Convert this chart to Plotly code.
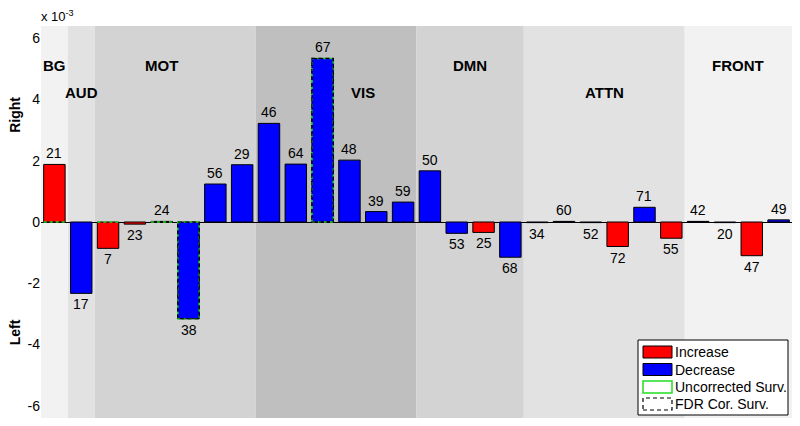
import plotly.graph_objects as go

# ---------------- data ----------------
bar_labels = [21, 17, 7, 23, 24, 38, 56, 29, 46, 64, 67, 48, 39, 59,
              50, 53, 25, 68, 34, 60, 52, 72, 71, 55, 42, 20, 47, 49]
values_e3 = [1.88, -2.33, -0.86, -0.07, 0.02, -3.16, 1.24, 1.87, 3.22, 1.89,
             5.34, 2.02, 0.34, 0.65, 1.67, -0.37, -0.34, -1.15, -0.02, 0.02,
             -0.02, -0.80, 0.48, -0.53, 0.02, -0.02, -1.10, 0.07]
direction = ["inc", "dec", "inc", "inc", "dec", "dec", "dec", "dec", "dec", "dec",
             "dec", "dec", "dec", "dec", "dec", "dec", "inc", "dec", "dec", "dec",
             "dec", "inc", "dec", "inc", "dec", "dec", "inc", "dec"]
uncorrected_surv = [1, 3, 5, 6, 11]   # 1-based bar numbers
fdr_surv = [6, 11]

region_names = ["BG", "AUD", "MOT", "VIS", "DMN", "ATTN", "FRONT"]
region_sizes = [1, 1, 6, 6, 4, 6, 4]
region_colors = ["#f2f2f2", "#e2e2e2", "#d3d3d3", "#bfbfbf", "#d3d3d3", "#e2e2e2", "#f2f2f2"]
region_label_x = [1, 2, 5, 12.5, 16.5, 21.5, 26.5]
region_label_y = [5.12, 4.24, 5.12, 4.24, 5.12, 4.24, 5.12]

y_ticks = [-6, -4, -2, 0, 2, 4, 6]
scale = 1e-3

legend_items = ["Increase", "Decrease", "Uncorrected Surv.", "FDR Cor. Surv."]

# ---------------- figure ----------------
# page has an 8px body margin: figure occupies window pixels 8..800 x 8..426
OFF = 8
W, H = 792, 418
ML, MR, MT, MB = 41 - OFF, 8, 26 - OFF, 8
PW, PH = W - ML - MR, H - MT - MB
FONT = "Liberation Sans, Arial"
DASH = "4px,3px"


def px(xw):   # window pixel -> paper x
    return (xw - OFF - ML) / PW


def py(yw):   # window pixel -> paper y
    return (H - MB - (yw - OFF)) / PH


x = list(range(1, len(values_e3) + 1))
y = [v * scale for v in values_e3]
colors = ["#ff0000" if d == "inc" else "#0000ff" for d in direction]

fig = go.Figure()
fig.add_trace(go.Bar(x=x, y=y, width=0.8,
                     marker=dict(color=colors, line=dict(color="#000000", width=1)),
                     showlegend=False, hoverinfo="skip"))

shapes = []
annotations = []

# background regions
start = 0.5
for name, n, c, lx, ly in zip(region_names, region_sizes, region_colors, region_label_x, region_label_y):
    shapes.append(dict(type="rect", xref="x", yref="paper", x0=start, x1=start + n, y0=0, y1=1,
                       fillcolor=c, line=dict(width=0), layer="below"))
    annotations.append(dict(x=lx, y=ly * scale, xref="x", yref="y", text="<b>%s</b>" % name,
                            showarrow=False, xanchor="center", yanchor="middle",
                            font=dict(size=15, color="#000000", family=FONT)))
    start += n

# uncorrected survivors: green dotted marks
for b in uncorrected_surv:
    v = y[b - 1]
    if b in fdr_surv:
        shapes.append(dict(type="rect", xref="x", yref="y", x0=b - 0.4, x1=b + 0.4, y0=0, y1=v,
                           line=dict(color="#22dd22", width=1.6, dash="dot"),
                           fillcolor="rgba(0,0,0,0)"))
    else:
        shapes.append(dict(type="line", xref="x", yref="y", x0=b - 0.4, x1=b + 0.4, y0=0, y1=0,
                           line=dict(color="#22dd22", width=1.6, dash="dot")))
# FDR survivors: black dashed outline
for b in fdr_surv:
    v = y[b - 1]
    shapes.append(dict(type="rect", xref="x", yref="y", x0=b - 0.4, x1=b + 0.4, y0=0, y1=v,
                       line=dict(color="#000000", width=1.2, dash=DASH),
                       fillcolor="rgba(0,0,0,0)"))

# bar labels
for xi, yi, lab in zip(x, y, bar_labels):
    pos = yi >= 0
    annotations.append(dict(x=xi, y=yi, xref="x", yref="y", text=str(lab), showarrow=False,
                            xanchor="center", yanchor="bottom" if pos else "top",
                            yshift=1 if pos else -1,
                            font=dict(size=14, color="#000000", family=FONT)))

# axis titles and exponent
annotations.append(dict(x=px(15), y=3.5 * scale, xref="paper", yref="y", text="<b>Right</b>",
                        textangle=-90, showarrow=False, xanchor="center", yanchor="middle",
                        font=dict(size=14, color="#000000", family=FONT)))
annotations.append(dict(x=px(15), y=-3.6 * scale, xref="paper", yref="y", text="<b>Left</b>",
                        textangle=-90, showarrow=False, xanchor="center", yanchor="middle",
                        font=dict(size=14, color="#000000", family=FONT)))
annotations.append(dict(x=px(39), y=py(16), xref="paper", yref="paper", text="x 10<sup>-3</sup>",
                        xanchor="left", yanchor="middle", showarrow=False,
                        font=dict(size=13, color="#000000", family=FONT)))

# legend (drawn)
shapes.append(dict(type="rect", xref="paper", yref="paper", x0=px(638), x1=px(788),
                   y0=py(415), y1=py(340), fillcolor="#ffffff", line=dict(color="#000000", width=1)))
row_y = [352, 369.5, 387, 404]
sw_fill = ["#ff0000", "#0000ff", "#ffffff", "#ffffff"]
sw_line = [dict(color="#000000", width=1), dict(color="#000000", width=1),
           dict(color="#22dd22", width=1.5), dict(color="#000000", width=1.2, dash=DASH)]
for ry, item, f, ln in zip(row_y, legend_items, sw_fill, sw_line):
    shapes.append(dict(type="rect", xref="paper", yref="paper", x0=px(643), x1=px(672),
                       y0=py(ry + 6), y1=py(ry - 6), fillcolor=f, line=ln))
    annotations.append(dict(x=px(673), y=py(ry), xref="paper", yref="paper", text=item,
                            xanchor="left", yanchor="middle", showarrow=False,
                            font=dict(size=14, color="#000000", family=FONT)))

fig.update_layout(
    width=W, height=H,
    margin=dict(l=ML, r=MR, t=MT, b=MB, pad=0),
    paper_bgcolor="#ffffff", plot_bgcolor="rgba(0,0,0,0)",
    shapes=shapes, annotations=annotations, showlegend=False,
    bargap=0.2,
    xaxis=dict(range=[0.5, len(values_e3) + 0.5], showticklabels=False, showgrid=False,
               zeroline=False, showline=False, ticks=""),
    yaxis=dict(range=[-6.4 * scale, 6.4 * scale], tickvals=[t * scale for t in y_ticks],
               ticktext=[str(t) for t in y_ticks], showgrid=False, zeroline=True,
               zerolinecolor="#000000", zerolinewidth=1, showline=False, ticks="",
               tickfont=dict(size=14, color="#000000", family=FONT)),
    font=dict(family=FONT),
)

fig.write_html("out.html")
